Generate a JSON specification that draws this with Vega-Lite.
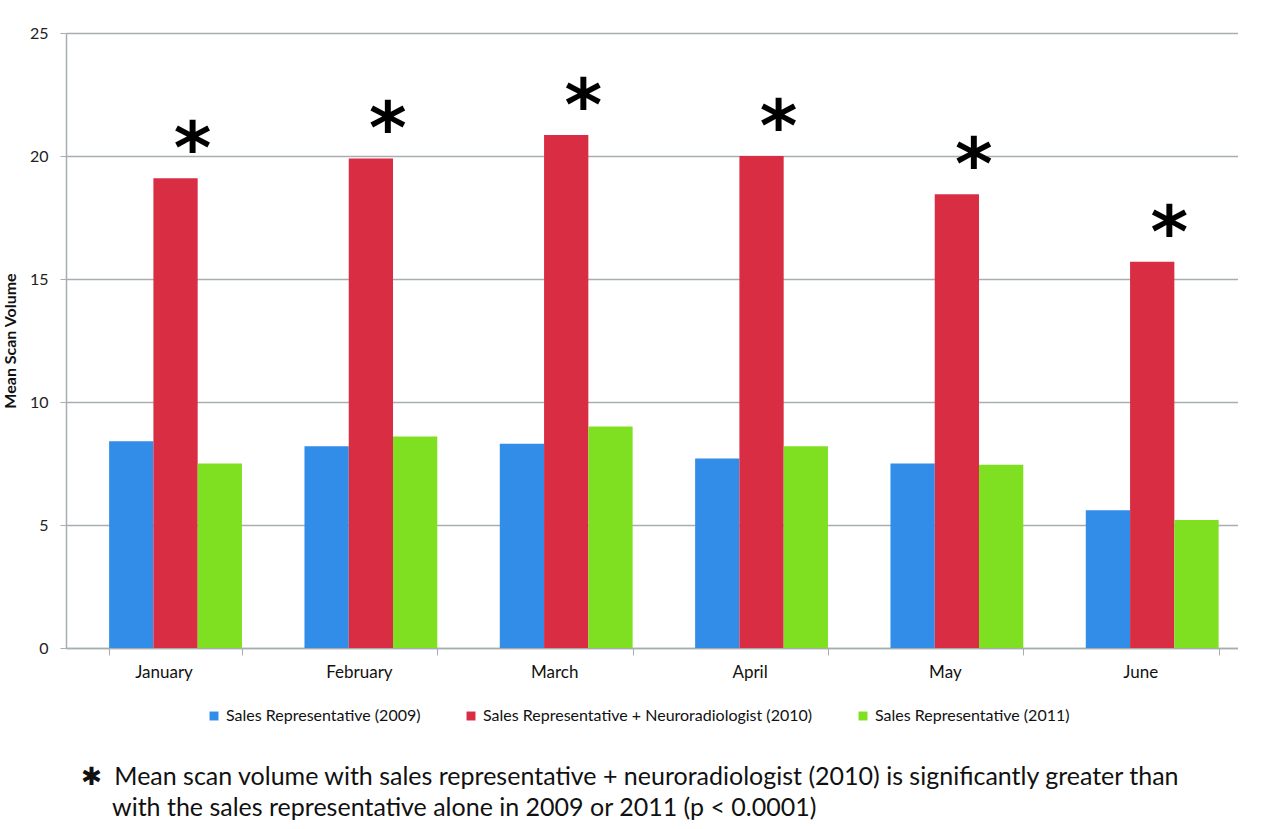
{
  "$schema": "https://vega.github.io/schema/vega-lite/v6.json",
  "width": 1172,
  "height": 615,
  "padding": {"left": 2, "top": 25, "right": 0, "bottom": 0},
  "background": "white",
  "config": {
    "view": {"stroke": null},
    "font": "Lato",
    "axis": {"gridColor": "#a6aeb1", "domainColor": "#a6aeb1", "tickColor": "#a6aeb1", "gridWidth": 1.5, "domainWidth": 1.5}
  },
  "data": {
    "values": [
      {"month": "January", "series": "Sales Representative (2009)", "value": 8.4, "sig": false},
      {"month": "January", "series": "Sales Representative + Neuroradiologist (2010)", "value": 19.1, "sig": true},
      {"month": "January", "series": "Sales Representative (2011)", "value": 7.5, "sig": false},
      {"month": "February", "series": "Sales Representative (2009)", "value": 8.2, "sig": false},
      {"month": "February", "series": "Sales Representative + Neuroradiologist (2010)", "value": 19.9, "sig": true},
      {"month": "February", "series": "Sales Representative (2011)", "value": 8.6, "sig": false},
      {"month": "March", "series": "Sales Representative (2009)", "value": 8.3, "sig": false},
      {"month": "March", "series": "Sales Representative + Neuroradiologist (2010)", "value": 20.85, "sig": true},
      {"month": "March", "series": "Sales Representative (2011)", "value": 9.0, "sig": false},
      {"month": "April", "series": "Sales Representative (2009)", "value": 7.7, "sig": false},
      {"month": "April", "series": "Sales Representative + Neuroradiologist (2010)", "value": 20.0, "sig": true},
      {"month": "April", "series": "Sales Representative (2011)", "value": 8.2, "sig": false},
      {"month": "May", "series": "Sales Representative (2009)", "value": 7.5, "sig": false},
      {"month": "May", "series": "Sales Representative + Neuroradiologist (2010)", "value": 18.45, "sig": true},
      {"month": "May", "series": "Sales Representative (2011)", "value": 7.45, "sig": false},
      {"month": "June", "series": "Sales Representative (2009)", "value": 5.6, "sig": false},
      {"month": "June", "series": "Sales Representative + Neuroradiologist (2010)", "value": 15.7, "sig": true},
      {"month": "June", "series": "Sales Representative (2011)", "value": 5.2, "sig": false}
    ]
  },
  "encoding": {
    "x": {
      "field": "month",
      "type": "nominal",
      "sort": ["January", "February", "March", "April", "May", "June"],
      "scale": {"paddingInner": 0.32, "paddingOuter": 0.16, "align": 0.69},
      "axis": {
        "labelAngle": 0,
        "labelFontSize": 17,
        "labelColor": "#111",
        "labelPadding": 9,
        "labelOffset": -12,
        "tickBand": "extent",
        "tickSize": 7,
        "title": [
          "✱\u00a0\u00a0Mean scan volume with sales representative + neuroradiologist (2010) is significantly greater than",
          "\u200b\u00a0\u00a0\u00a0\u00a0\u00a0with the sales representative alone in 2009 or 2011 (p < 0.0001)"
        ],
        "titleX": 14,
        "titleY": 116,
        "titleAlign": "left",
        "titleAnchor": "start",
        "titleBaseline": "top",
        "titleFontSize": 25,
        "titleFontWeight": "normal",
        "titleLineHeight": 31,
        "titleColor": "#111"
      }
    },
    "xOffset": {
      "field": "series",
      "type": "nominal",
      "scale": {"domain": ["Sales Representative (2009)", "Sales Representative + Neuroradiologist (2010)", "Sales Representative (2011)"]}
    },
    "y": {
      "field": "value",
      "type": "quantitative",
      "scale": {"domain": [0, 25]},
      "axis": {
        "values": [0, 5, 10, 15, 20, 25],
        "title": "Mean Scan Volume",
        "titleFont": "Lato",
        "titleFontSize": 16,
        "titleFontWeight": "bold",
        "titleColor": "#111",
        "titlePadding": 11,
        "labelFont": "Lato",
        "labelFontSize": 16,
        "labelColor": "#222",
        "labelPadding": 12,
        "tickSize": 6
      }
    }
  },
  "layer": [
    {
      "mark": {"type": "bar"},
      "encoding": {
        "color": {
          "field": "series",
          "type": "nominal",
          "scale": {
            "domain": ["Sales Representative (2009)", "Sales Representative + Neuroradiologist (2010)", "Sales Representative (2011)"],
            "range": ["#318de8", "#d92d44", "#7fe022"]
          },
          "legend": {
            "title": null,
            "orient": "none",
            "direction": "horizontal",
            "legendX": 140,
            "legendY": 675,
            "symbolType": "square",
            "symbolSize": 80,
            "symbolStrokeWidth": 0,
            "labelFontSize": 16,
            "labelColor": "#111",
            "labelLimit": 500,
            "columnPadding": 42
          }
        }
      }
    },
    {
      "transform": [{"filter": "datum.sig"}],
      "mark": {"type": "text", "text": "*", "font": "DejaVu Sans", "fontWeight": "bold", "fontSize": 72, "dx": 17, "dy": -5, "baseline": "alphabetic", "color": "black"}
    }
  ]
}
